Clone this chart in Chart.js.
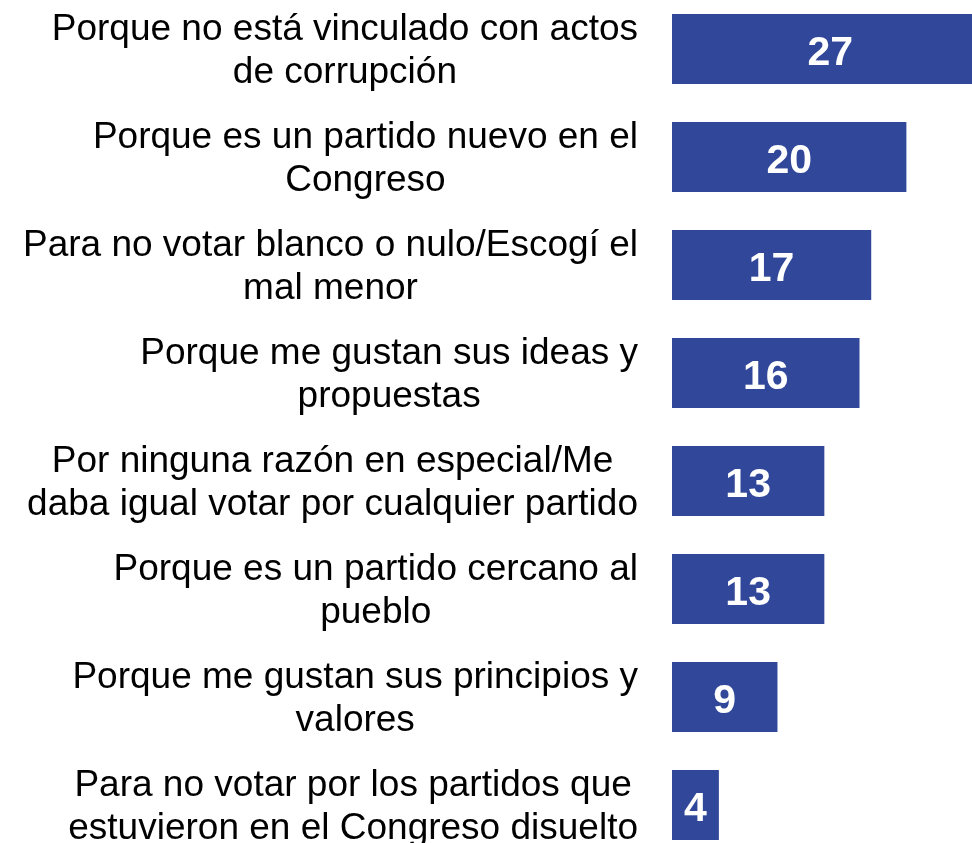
<!DOCTYPE html>
<html>
<head>
<meta charset="utf-8">
<script src="https://cdn.jsdelivr.net/npm/chart.js@4"></script>
<style>
  html, body { margin: 0; padding: 0; background: #ffffff; overflow: hidden; width: 972px; height: 843px; }
  #wrap { position: absolute; left: 0; top: -5px; width: 972px; height: 864px; }
</style>
</head>
<body>
<div id="wrap"><canvas id="c" width="972" height="864"></canvas></div>
<script>
const categories = [
  ["Porque no está vinculado con actos", "de corrupción"],
  ["Porque es un partido nuevo en el", "Congreso"],
  ["Para no votar blanco o nulo/Escogí el", "mal menor"],
  ["Porque me gustan sus ideas y", "propuestas"],
  ["Por ninguna razón en especial/Me", "daba igual votar por cualquier partido"],
  ["Porque es un partido cercano al", "pueblo"],
  ["Porque me gustan sus principios y", "valores"],
  ["Para no votar por los partidos que", "estuvieron en el Congreso disuelto"]
];
const values = [27, 20, 17, 16, 13, 13, 9, 4];

const BAR_COLOR = '#30479a';
const LABEL_FONT = '37px "Liberation Sans", Arial, sans-serif';
const VALUE_FONT = 'bold 41px "Liberation Sans", Arial, sans-serif';

const labelPlugin = {
  id: 'labelPlugin',
  afterDatasetsDraw(chart) {
    const ctx = chart.ctx;
    const ys = chart.scales.y;
    const xs = chart.scales.x;
    ctx.save();
    ctx.font = LABEL_FONT;
    ctx.fillStyle = '#000000';
    ctx.textBaseline = 'middle';
    ctx.textAlign = 'center';
    const lineH = 43;
    const right = 638;
    categories.forEach((lines, i) => {
      const y = ys.getPixelForValue(i) + 2.5;
      const w = Math.max(...lines.map(l => ctx.measureText(l).width));
      const cx = right - w / 2;
      lines.forEach((l, j) => {
        ctx.fillText(l, cx, y + (j - (lines.length - 1) / 2) * lineH);
      });
    });
    ctx.font = VALUE_FONT;
    ctx.fillStyle = '#ffffff';
    values.forEach((v, i) => {
      const y = ys.getPixelForValue(i);
      const x0 = xs.getPixelForValue(0);
      const x1 = xs.getPixelForValue(v);
      ctx.fillText(String(v), (x0 + x1) / 2, y + 5);
    });
    ctx.restore();
  }
};

function draw() {
  new Chart(document.getElementById('c'), {
    type: 'bar',
    data: {
      labels: categories,
      datasets: [{
        data: values,
        backgroundColor: BAR_COLOR,
        borderWidth: 0,
        categoryPercentage: 1,
        barPercentage: 70 / 108
      }]
    },
    options: {
      indexAxis: 'y',
      responsive: false,
      animation: false,
      devicePixelRatio: 1,
      layout: { padding: { left: 672, right: 0, top: 0, bottom: 0 } },
      plugins: { legend: { display: false }, tooltip: { enabled: false } },
      scales: {
        x: { display: false, min: 0, max: 25.6 },
        y: { display: false }
      }
    },
    plugins: [labelPlugin]
  });
}

Promise.all([
  document.fonts.load('37px "Liberation Sans"'),
  document.fonts.load('bold 41px "Liberation Sans"')
]).then(draw, draw);
</script>
</body>
</html>
